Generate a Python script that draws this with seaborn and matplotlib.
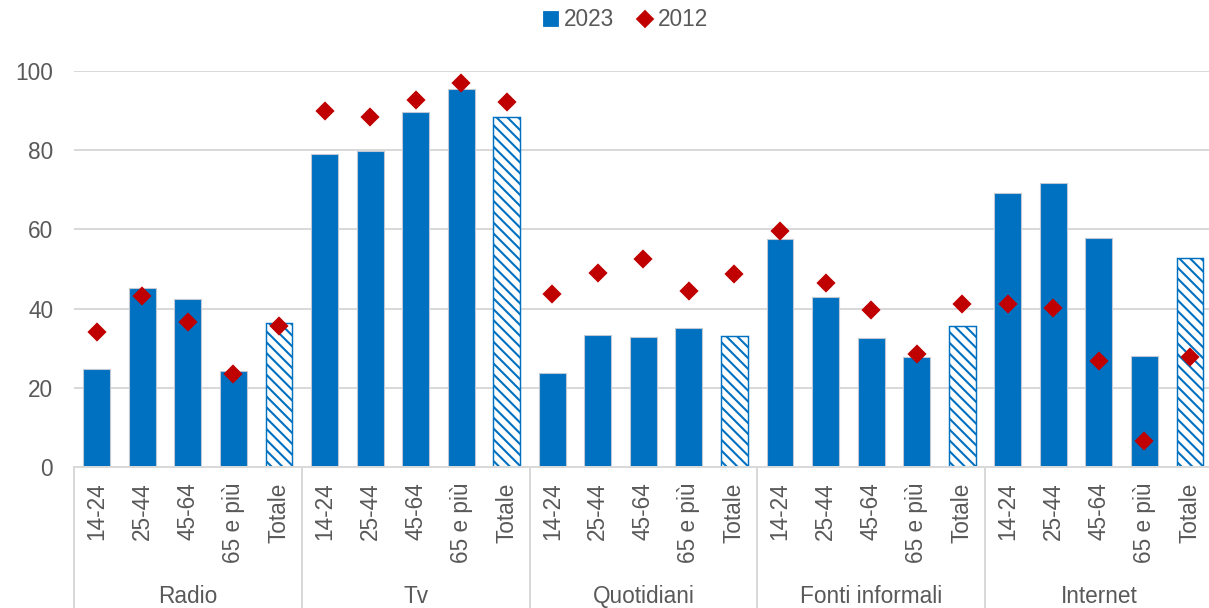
import matplotlib
matplotlib.use("Agg")
import matplotlib.pyplot as plt
from matplotlib.lines import Line2D
import pandas as pd
import seaborn as sns

# Media categories and age classes
groups = ["Radio", "Tv", "Quotidiani", "Fonti informali", "Internet"]
ages = ["14-24", "25-44", "45-64", "65 e più", "Totale"]

# Share of people using each source (%), 2023 (bars) and 2012 (diamonds)
share_2023 = [
    24.7, 45.3, 42.3, 24.3, 36.4,   # Radio
    79.0, 79.9, 89.6, 95.4, 88.5,   # Tv
    23.8, 33.3, 32.9, 35.2, 33.1,   # Quotidiani
    57.6, 43.0, 32.7, 27.9, 35.6,   # Fonti informali
    69.2, 71.7, 57.8, 28.0, 52.9,   # Internet
]
share_2012 = [
    34.0, 43.2, 36.5, 23.4, 35.5,
    89.9, 88.5, 92.8, 97.0, 92.1,
    43.6, 49.1, 52.4, 44.4, 48.7,
    59.5, 46.5, 39.6, 28.5, 41.1,
    41.2, 40.2, 26.7, 6.6, 27.7,
]
y_ticks = [0, 20, 40, 60, 80, 100]

BLUE = "#0070C0"
RED = "#C00000"
GRID = "#D9D9D9"
TEXT = "#595959"

df = pd.DataFrame({
    "group": [g for g in groups for _ in ages],
    "age": [a for _ in groups for a in ages],
    "v2023": share_2023,
    "v2012": share_2012,
})
df["key"] = df["group"] + "|" + df["age"]
order = list(df["key"])

sns.set_theme(style="white")
plt.rcParams["font.family"] = ["Liberation Sans", "DejaVu Sans"]
plt.rcParams["hatch.linewidth"] = 1.15

DPI = 130
W, H = 1209, 608
fig = plt.figure(figsize=(W / DPI, H / DPI), dpi=DPI)
# plot area in pixels: x 74 -> 1212.75, y 71 -> 467
ax = fig.add_axes([74 / W, (H - 467) / H, 1138.75 / W, 396 / H])

sns.barplot(data=df, x="key", y="v2023", order=order, color=BLUE,
            saturation=1, width=0.59, edgecolor="#BFC9D6", linewidth=0.6,
            errorbar=None, ax=ax)

# "Totale" bars are hatched
for i, patch in enumerate(ax.patches):
    if df["age"].iloc[i] == "Totale":
        patch.set_facecolor("white")
        patch.set_edgecolor(BLUE)
        patch.set_hatch("\\\\\\\\")
        patch.set_linewidth(0.8)

sns.pointplot(data=df, x="key", y="v2012", order=order, color=RED,
              marker="D", markersize=5.3, linestyle="none",
              errorbar=None, ax=ax)

ax.set_xlim(-0.5, len(order) - 0.5)
ax.set_ylim(0, 100)
ax.set_yticks(y_ticks)
ax.set_yticklabels([str(t) for t in y_ticks])
ax.yaxis.grid(True, color=GRID, linewidth=1.1)
ax.set_axisbelow(True)
ax.set_xlabel("")
ax.set_ylabel("")

for side in ["top", "right", "left"]:
    ax.spines[side].set_visible(False)
ax.spines["bottom"].set_color(GRID)
ax.spines["bottom"].set_linewidth(1.1)

ax.tick_params(axis="y", length=0, pad=11.5, labelsize=12.5, labelcolor=TEXT)
ax.set_xticks(range(len(order)))
ax.set_xticklabels(df["age"], rotation=90, va="top", ha="center")
ax.tick_params(axis="x", length=0, pad=8.5, labelsize=12.5, labelcolor=TEXT)

# group separators and group names below the age labels
xt = ax.get_xaxis_transform()
sep_bottom = -(H - 467) / 396
for k in range(len(groups) + 1):
    xpos = k * len(ages) - 0.5
    ax.add_line(Line2D([xpos, xpos], [0, sep_bottom], transform=xt,
                       color=GRID, linewidth=1.1, clip_on=False))
for k, g in enumerate(groups):
    xc = k * len(ages) + (len(ages) - 1) / 2
    ax.text(xc, -(585 - 467) / 396, g, transform=xt, ha="center", va="top",
            fontsize=12.5, color=TEXT, clip_on=False)

handles = [
    Line2D([], [], marker="s", linestyle="none", color=BLUE,
           markersize=7.5, label="2023"),
    Line2D([], [], marker="D", linestyle="none", color=RED,
           markersize=6, label="2012"),
]
fig.legend(handles=handles, loc="center", bbox_to_anchor=(624 / W, 1 - 20 / H),
           ncol=2, frameon=False, fontsize=12.5, labelcolor=TEXT,
           handletextpad=0.05, columnspacing=0.9, handlelength=1.0)

fig.savefig("out.png", dpi=DPI)
